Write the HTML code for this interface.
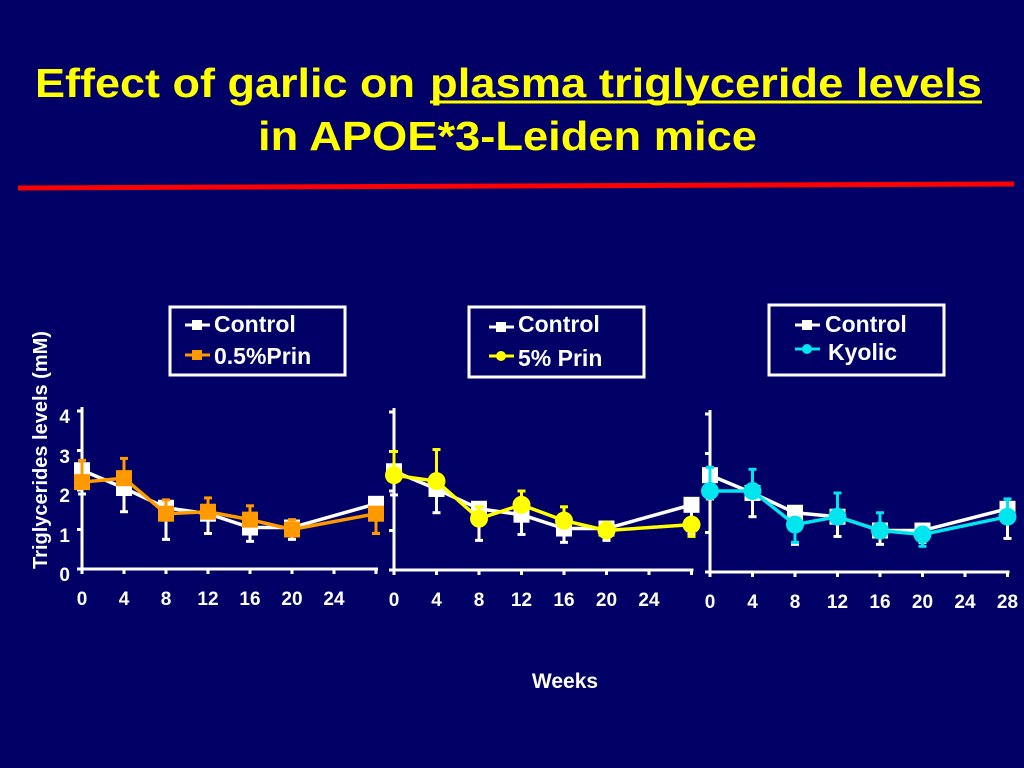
<!DOCTYPE html>
<html><head><meta charset="utf-8"><style>
html,body{margin:0;padding:0;background:#000066;}
svg{display:block;font-family:"Liberation Sans",Arial,sans-serif;font-weight:bold;}
</style></head><body>
<svg id="s" width="1024" height="768" viewBox="0 0 1024 768">
<rect width="1024" height="768" fill="#000066"/>
<text x="35" y="97" fill="#ffff00" font-size="41" textLength="380" lengthAdjust="spacingAndGlyphs">Effect of garlic on</text>
<text x="430" y="97" fill="#ffff00" font-size="41" textLength="552" lengthAdjust="spacingAndGlyphs">plasma triglyceride levels</text>
<line x1="430" y1="102" x2="982" y2="102" stroke="#ffff00" stroke-width="3"/>
<text x="258" y="150" fill="#ffff00" font-size="41" textLength="499" lengthAdjust="spacingAndGlyphs">in APOE*3-Leiden mice</text>
<line x1="18" y1="188" x2="1014" y2="184" stroke="#ff0000" stroke-width="5"/>
<text transform="translate(47,450) rotate(-90)" text-anchor="middle" fill="#fff" font-size="20">Triglycerides levels (mM)</text>
<text x="565" y="688" text-anchor="middle" fill="#fff" font-size="21">Weeks</text>
<g fill="#fff" font-size="19">
<text x="70" y="423" text-anchor="end">4</text><text x="70" y="463" text-anchor="end">3</text>
<text x="70" y="502" text-anchor="end">2</text><text x="70" y="542" text-anchor="end">1</text>
<text x="70" y="581" text-anchor="end">0</text>
</g>
<!-- legends -->
<rect x="170" y="307" width="175" height="68" fill="none" stroke="#fff" stroke-width="3"/>
<rect x="469" y="307" width="175" height="70" fill="none" stroke="#fff" stroke-width="3"/>
<rect x="769" y="305" width="175" height="70" fill="none" stroke="#fff" stroke-width="3"/>
<g fill="#fff" font-size="23">
<text x="214" y="332">Control</text><text x="214" y="364">0.5%Prin</text>
<text x="518" y="332">Control</text><text x="518" y="366">5% Prin</text>
<text x="825" y="332">Control</text><text x="828" y="360">Kyolic</text>
</g>
<g id="g"></g>
</svg>
<script>
var g=document.getElementById('g'),NS='http://www.w3.org/2000/svg';
function el(t,a){var e=document.createElementNS(NS,t);for(var k in a)e.setAttribute(k,a[k]);g.appendChild(e);return e;}
function mark(type,x,y,c,r){if(type=='s')el('rect',{x:x-r,y:y-r,width:2*r,height:2*r,fill:c});else el('circle',{cx:x,cy:y,r:r,fill:c});}
[[185,325,'#fff','s'],[185,355,'#ff9900','s'],[489,327,'#fff','s'],[489,356,'#ffff00','c'],[795,325,'#fff','s'],[795,349,'#00e5ee','c']].forEach(function(m){
 el('line',{x1:m[0],y1:m[1],x2:m[0]+25,y2:m[1],stroke:m[2],'stroke-width':3});mark(m[3],m[0]+12,m[1],m[2],5);});
var P=[{ax:82,st:42,base:569,w:[0,4,8,12,16,20,28],lab:[0,4,8,12,16,20,24],
 c:[2.5,2.05,1.55,1.4,1.05,1.05,1.65],ce:[-0.6,-0.6,-0.8,-0.5,-0.35,-0.3,-0.75],
 t:[2.2,2.3,1.4,1.45,1.25,1.0,1.4],te:[0.55,0.5,0.35,0.35,0.35,0.25,-0.5],col:'#ff9900',tm:'s'},
 {ax:394,st:42.5,base:570,w:[0,4,8,12,16,20,28],lab:[0,4,8,12,16,20,24],
 c:[2.5,2.05,1.55,1.4,1.05,1.05,1.65],ce:[-0.6,-0.6,-0.8,-0.5,-0.35,-0.3,-0.75],
 t:[2.4,2.25,1.3,1.65,1.25,1.0,1.15],te:[0.6,0.8,0.3,0.35,0.35,0.2,-0.3],col:'#ffff00',tm:'c'},
 {ax:710,st:42.5,base:572,w:[0,4,8,12,16,20,28],lab:[0,4,8,12,16,20,24,28],
 c:[2.45,2.0,1.5,1.4,1.05,1.05,1.6],ce:[-0.6,-0.6,-0.8,-0.5,-0.35,-0.3,-0.75],
 t:[2.05,2.05,1.2,1.4,1.05,0.95,1.4],te:[0.6,0.55,-0.45,0.6,0.45,-0.3,0.45],col:'#00e5ee',tm:'c'}];
P.forEach(function(p,i){
 var X=function(w){return p.ax+w/4*p.st;},Y=function(v){return p.base-39.5*v;};
 el('line',{x1:p.ax,y1:Y(4.1),x2:p.ax,y2:p.base,stroke:'#fff','stroke-width':3});
 el('line',{x1:p.ax,y1:p.base,x2:X(28)+2,y2:p.base,stroke:'#fff','stroke-width':3});
 for(var v=0;v<=4;v++)el('line',{x1:p.ax-5,y1:Y(v),x2:p.ax,y2:Y(v),stroke:'#fff','stroke-width':3});
 for(var w=0;w<=28;w+=4)el('line',{x1:X(w),y1:p.base,x2:X(w),y2:p.base+5,stroke:'#fff','stroke-width':3});
 p.lab.forEach(function(l){var t=el('text',{x:X(l),y:p.base+36,'text-anchor':'middle',fill:'#fff','font-size':19});t.textContent=l;});
 [[p.c,p.ce,'#fff','s',8],[p.t,p.te,p.col,p.tm,p.tm=='s'?8:9]].forEach(function(s){
  var pts=p.w.map(function(w,j){return X(w)+','+Y(s[0][j]);}).join(' ');
  s[0].forEach(function(v,j){var x=X(p.w[j]),y1=Y(v),y2=Y(v+s[1][j]);
   el('line',{x1:x,y1:y1,x2:x,y2:y2,stroke:s[2],'stroke-width':3});
   el('line',{x1:x-4,y1:y2,x2:x+4,y2:y2,stroke:s[2],'stroke-width':3});});
  el('polyline',{points:pts,fill:'none',stroke:s[2],'stroke-width':3.5});
  s[0].forEach(function(v,j){mark(s[3],X(p.w[j]),Y(v),s[2],s[4]);});
 });
});
</script>
</body></html>
